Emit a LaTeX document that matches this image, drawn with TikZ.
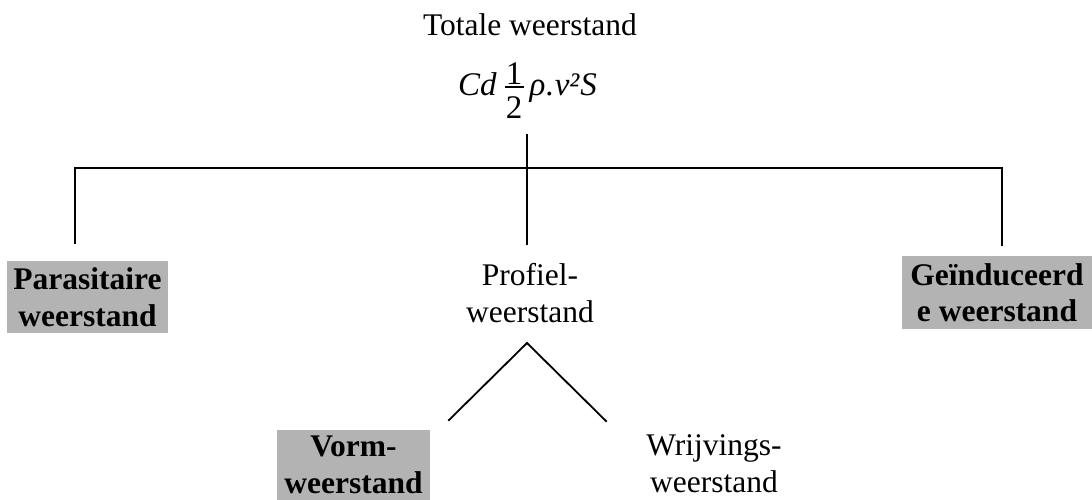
\documentclass[tikz,border=0pt]{standalone}
\usepackage{fontspec}
\setmainfont{Liberation Serif}
\definecolor{boxgray}{RGB}{179,179,179}
\newcommand{\myhalf}{\makebox[19pt][c]{%
  \rlap{\makebox[19pt]{\raisebox{11pt}{1}}}%
  \rlap{\makebox[19pt]{\raisebox{-23pt}{2}}}%
  \rule[7.5pt]{19pt}{1.4pt}}}
\tikzset{
  lbl/.style={font=\fontsize{31.5}{37}\selectfont, align=center, inner sep=0pt},
  graybox/.style={lbl, font=\fontsize{31.5}{36.5}\selectfont\bfseries, fill=boxgray},
  link/.style={draw, line width=1.8pt, line cap=rect}
}
\begin{document}
\begin{tikzpicture}[x=1pt,y=-1pt]
\useasboundingbox (0,0) rectangle (1092,499);
% labels
\node[lbl, anchor=base] (tot) at (530,35) {Totale weerstand};
\node[lbl, font=\fontsize{33}{37}\selectfont, anchor=base west] (form) at (458,95)
  {{\itshape Cd}\hspace{8pt}\myhalf\hspace{6pt}{\itshape ρ\hspace{0.5pt}.\hspace{0.5pt}v²\hspace{1pt}S}};
\node[lbl] (prof) at (530,293) {Profiel-\\weerstand};
\node[lbl] (wrij) at (714,464) {Wrijvings-\\weerstand};
\node[graybox, minimum width=161pt, minimum height=72pt] (para) at (87.5,297) {Parasitaire\\weerstand};
\node[graybox, minimum width=190pt, minimum height=73pt] (gein) at (997,292.5) {Geïnduceerd\\e weerstand};
\node[graybox, minimum width=153pt, minimum height=70pt] (vorm) at (353.5,465) {Vorm-\\weerstand};
% junction coordinates
\coordinate (ctop) at (527,135);
\coordinate (cbot) at (527,244);
\coordinate (hl) at (75,168);
\coordinate (hr) at (1002,168);
\coordinate (ll) at (75,243);
\coordinate (rr) at (1002,245);
\coordinate (apex) at (527,343);
\coordinate (tl) at (449,420);
\coordinate (tr) at (606,421);
% connectors
\draw[link] (ctop) -- (cbot);
\draw[link] (ll) -- (hl) -- (hr) -- (rr);
\draw[link] (tl) -- (apex) -- (tr);
\end{tikzpicture}
\end{document}
